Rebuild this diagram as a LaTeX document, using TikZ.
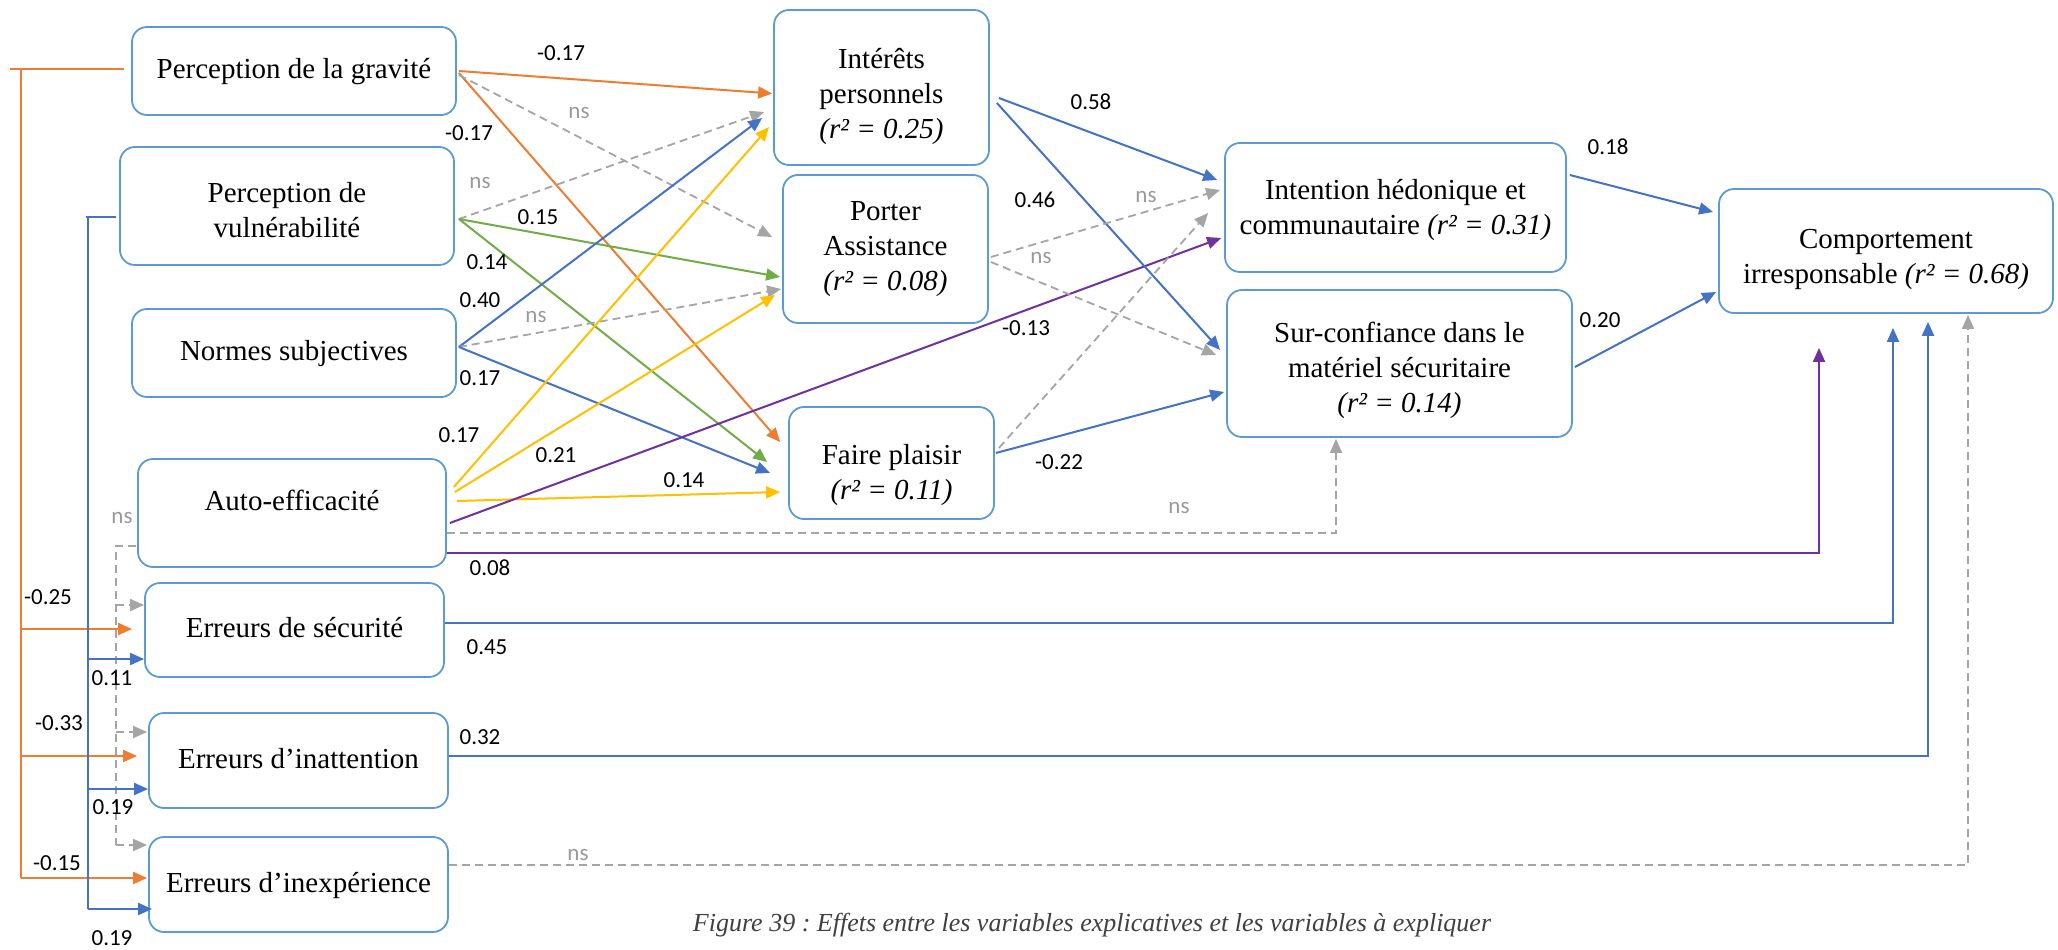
\documentclass[tikz,border=0pt]{standalone}
\usepackage{fontspec}
\setmainfont{Liberation Serif}
\newfontfamily\numfont{Carlito}
\usetikzlibrary{arrows.meta,calc}
\definecolor{cor}{HTML}{ED7D31}
\definecolor{cbl}{HTML}{4472C4}
\definecolor{cgr}{HTML}{70AD47}
\definecolor{cye}{HTML}{FFC000}
\definecolor{cpu}{HTML}{7030A0}
\definecolor{cgy}{HTML}{A5A5A5}
\definecolor{cbox}{HTML}{5B9BD5}
\definecolor{cns}{HTML}{9A9A9A}
\definecolor{ccap}{HTML}{404040}
\frenchspacing
\newcommand{\pushdown}[1]{\rule{0pt}{#1pt}}
\begin{document}
\begin{tikzpicture}[x=1pt,y=-1pt,
 box/.style={draw=cbox, line width=1.8pt, rounded corners=15pt, align=center, inner sep=0pt, fill=white, font=\fontsize{29}{35}\selectfont},
 sbox/.style={box, text height=21pt, text depth=6pt},
 lbl/.style={font=\numfont\fontsize{23}{28}\selectfont, inner sep=0pt},
 nslbl/.style={lbl, text=cns},
 conn/.style={line width=2pt, -{Triangle[length=14pt,width=12pt]}},
 plain/.style={line width=2pt},
 nsl/.style={draw=cgy, line width=1.8pt, dash pattern=on 8pt off 5pt},
 nsa/.style={nsl, -{Triangle[length=14pt,width=12pt]}},
]
\useasboundingbox[fill=white] (0,0) rectangle (2058,950);

% boxes
\node[sbox, minimum width=324pt, minimum height=88pt] (G) at (294,71) {Perception de la gravité};
\node[box, minimum width=334pt, minimum height=118pt] (V) at (287,206) {\pushdown{28}Perception de\\vulnérabilité};
\node[sbox, minimum width=324pt, minimum height=88pt] (N) at (294,353) {Normes subjectives};
\node[sbox, minimum width=308pt, minimum height=108pt, text depth=26pt] (A) at (292,513) {Auto-efficacité};
\node[sbox, minimum width=299pt, minimum height=94pt] (ES) at (294.5,630) {Erreurs de sécurité};
\node[sbox, minimum width=299pt, minimum height=95pt] (EI) at (298.5,760.5) {Erreurs d’inattention};
\node[sbox, minimum width=299pt, minimum height=95pt] (EX) at (298.5,884.5) {Erreurs d’inexpérience};

\node[box, minimum width=215pt, minimum height=155pt] (IP) at (881.5,87.5) {\pushdown{38}Intérêts\\personnels\\\textit{(r² = 0.25)}};
\node[box, minimum width=205pt, minimum height=148pt] (PA) at (885.5,249) {Porter\\Assistance\\\textit{(r² = 0.08)}};
\node[box, minimum width=205pt, minimum height=112pt] (FP) at (891.5,463) {\pushdown{44}Faire plaisir\\\textit{(r² = 0.11)}};

\node[box, minimum width=341pt, minimum height=129pt] (IH) at (1395.5,207.5) {\pushdown{26}Intention hédonique et\\communautaire \textit{(r² = 0.31)}};
\node[box, minimum width=345pt, minimum height=147pt] (SC) at (1399.5,363.5) {\pushdown{34}Sur-confiance dans le\\matériel sécuritaire\\\textit{(r² = 0.14)}};
\node[box, minimum width=334pt, minimum height=124pt] (CI) at (1886,251) {\pushdown{36}Comportement\\irresponsable \textit{(r² = 0.68)}};

\node[font=\itshape\fontsize{26}{30}\selectfont, text=ccap, inner sep=0pt] (cap) at (1092,925) {Figure 39 : Effets entre les variables explicatives et les variables à expliquer};

% from gravite
\draw[conn,cor] ($(G.east)+(2,0)$) -- ($(IP.west)+(-1,6)$);
\draw[conn,cor] ($(G.east)+(2,2)$) -- ($(FP.west)+(-8,-21)$);
\draw[nsa] ($(G.east)+(2,4)$) -- ($(PA.west)+(-10,-12)$);
% from vulnerabilite
\draw[nsa] ($(V.east)+(4,13)$) -- ($(IP.west)+(-9,24.5)$);
\draw[conn,cgr] ($(V.east)+(4,13)$) -- ($(PA.west)+(-2,28)$);
\draw[conn,cgr] ($(V.east)+(4,13)$) -- ($(FP.west)+(-21,-1)$);
% from normes
\draw[conn,cbl] ($(N.east)+(2,-6)$) -- ($(IP.west)+(-11,30.5)$);
\draw[nsa] ($(N.east)+(2,-6)$) -- ($(PA.west)+(-1,40)$);
\draw[conn,cbl] ($(N.east)+(2,-6)$) -- ($(FP.west)+(-18,10)$);
% from auto-efficacite
\draw[conn,cye] ($(A.east)+(7,-26)$) -- ($(IP.west)+(-4,39.5)$);
\draw[conn,cye] ($(A.east)+(8,-21)$) -- ($(PA.west)+(-7,46)$);
\draw[conn,cye] ($(A.east)+(10,-12)$) -- ($(FP.west)+(-8,29)$);
\draw[conn,cpu] ($(A.east)+(3,10)$) -- ($(IH.west)+(-3,30.5)$);
\draw[nsa] ($(A.east)+(0,20)$) -| ($(SC.south)+(-63.5,1)$);
\draw[conn,cpu] ($(A.east)+(0,40)$) -| ($(CI.south)+(-67,34)$);

% auto-efficacite -> erreurs (ns)
\coordinate (ESt) at ($(ES.west)+(0,-25)$);
\coordinate (EIt) at ($(EI.west)+(-1,-28.5)$);
\coordinate (EXt) at ($(EX.west)+(-1,-39.5)$);
\coordinate (nsb) at (116,546);
\draw[nsl] ($(A.west)+(-1,33)$) -- (nsb) -- (nsb |- EXt);
\draw[nsa] (nsb |- ESt) -- (ESt);
\draw[nsa] (nsb |- EIt) -- (EIt);
\draw[nsa] (nsb |- EXt) -- (EXt);

% gravite -> erreurs
\coordinate (ESo) at ($(ES.west)+(-12,-1)$);
\coordinate (EIo) at ($(EI.west)+(-11,-4.5)$);
\coordinate (EXo) at ($(EX.west)+(-1,-6.5)$);
\coordinate (ob) at (21,69);
\draw[plain,cor] ($(G.west)+(-7,-2)$) -- (10,69);
\draw[plain,cor] (ob) -- (ob |- EXo);
\draw[conn,cor] (ob |- ESo) -- (ESo);
\draw[conn,cor] (ob |- EIo) -- (EIo);
\draw[conn,cor] (ob |- EXo) -- (EXo);

% vulnerabilite -> erreurs
\coordinate (ESb) at ($(ES.west)+(0,29)$);
\coordinate (EIb) at ($(EI.west)+(0,28.5)$);
\coordinate (EXb) at ($(EX.west)+(4,24.5)$);
\coordinate (bb) at (88,217);
\draw[plain,cbl] ($(V.west)+(-3,11)$) -- (86,217);
\draw[plain,cbl] (bb) -- (bb |- EXb);
\draw[conn,cbl] (bb |- ESb) -- (ESb);
\draw[conn,cbl] (bb |- EIb) -- (EIb);
\draw[conn,cbl] (bb |- EXb) -- (EXb);

% erreurs -> comportement
\draw[conn,cbl] ($(ES.east)+(0,-7)$) -| ($(CI.south)+(7,14)$);
\draw[conn,cbl] ($(EI.east)+(0,-4.5)$) -| ($(CI.south)+(42,8)$);
\draw[nsa] ($(EX.east)+(0,-19.5)$) -| ($(CI.south)+(82,1)$);

% middle -> right
\draw[conn,cbl] ($(IP.east)+(9,10.5)$) -- ($(IH.west)+(-7,-27.5)$);
\draw[conn,cbl] ($(IP.east)+(7,15.5)$) -- ($(SC.west)+(-6,-13.5)$);
\draw[nsa] ($(PA.east)+(2,8)$) -- ($(IH.west)+(-4,-17.5)$);
\draw[nsa] ($(PA.east)+(2,13)$) -- ($(SC.west)+(-10,-8.5)$);
\draw[nsa] ($(FP.east)+(4,-15)$) -- ($(IH.west)+(-16,5.5)$);
\draw[conn,cbl] ($(FP.east)+(1,-10)$) -- ($(SC.west)+(-2,28.5)$);
\draw[conn,cbl] ($(IH.east)+(3,-32.5)$) -- ($(CI.west)+(-5,-39)$);
\draw[conn,cbl] ($(SC.east)+(2,3.5)$) -- ($(CI.west)+(-2,41)$);

% labels
\node[lbl] (l1) at (561,53) {-0.17};
\node[lbl] (l2) at (469,133) {-0.17};
\node[nslbl] (l3) at (579,113) {ns};
\node[nslbl] (l4) at (480,183) {ns};
\node[lbl] (l5) at (538,217) {0.15};
\node[lbl] (l6) at (487,262) {0.14};
\node[lbl] (l7) at (480,300) {0.40};
\node[nslbl] (l8) at (536,317) {ns};
\node[lbl] (l9) at (480,378) {0.17};
\node[lbl] (l10) at (459,435) {0.17};
\node[lbl] (l11) at (556,455) {0.21};
\node[lbl] (l12) at (684,480) {0.14};
\node[lbl] (l13) at (1026,328) {-0.13};
\node[nslbl] (l14) at (1179,508) {ns};
\node[lbl] (l15) at (490,568) {0.08};
\node[nslbl] (l16) at (122,518) {ns};
\node[lbl] (l17) at (1091,102) {0.58};
\node[lbl] (l18) at (1035,200) {0.46};
\node[nslbl] (l19) at (1146,197) {ns};
\node[nslbl] (l20) at (1041,258) {ns};
\node[lbl] (l21) at (1059,462) {-0.22};
\node[lbl] (l22) at (1608,147) {0.18};
\node[lbl] (l23) at (1600,320) {0.20};
\node[lbl] (l24) at (487,647) {0.45};
\node[lbl] (l25) at (480,737) {0.32};
\node[nslbl] (l26) at (578,855) {ns};
\node[lbl] (l27) at (48,597) {-0.25};
\node[lbl] (l28) at (59,723) {-0.33};
\node[lbl] (l29) at (57,863) {-0.15};
\node[lbl] (l30) at (112,678) {0.11};
\node[lbl] (l31) at (113,807) {0.19};
\node[lbl] (l32) at (112,938) {0.19};
\end{tikzpicture}
\end{document}
